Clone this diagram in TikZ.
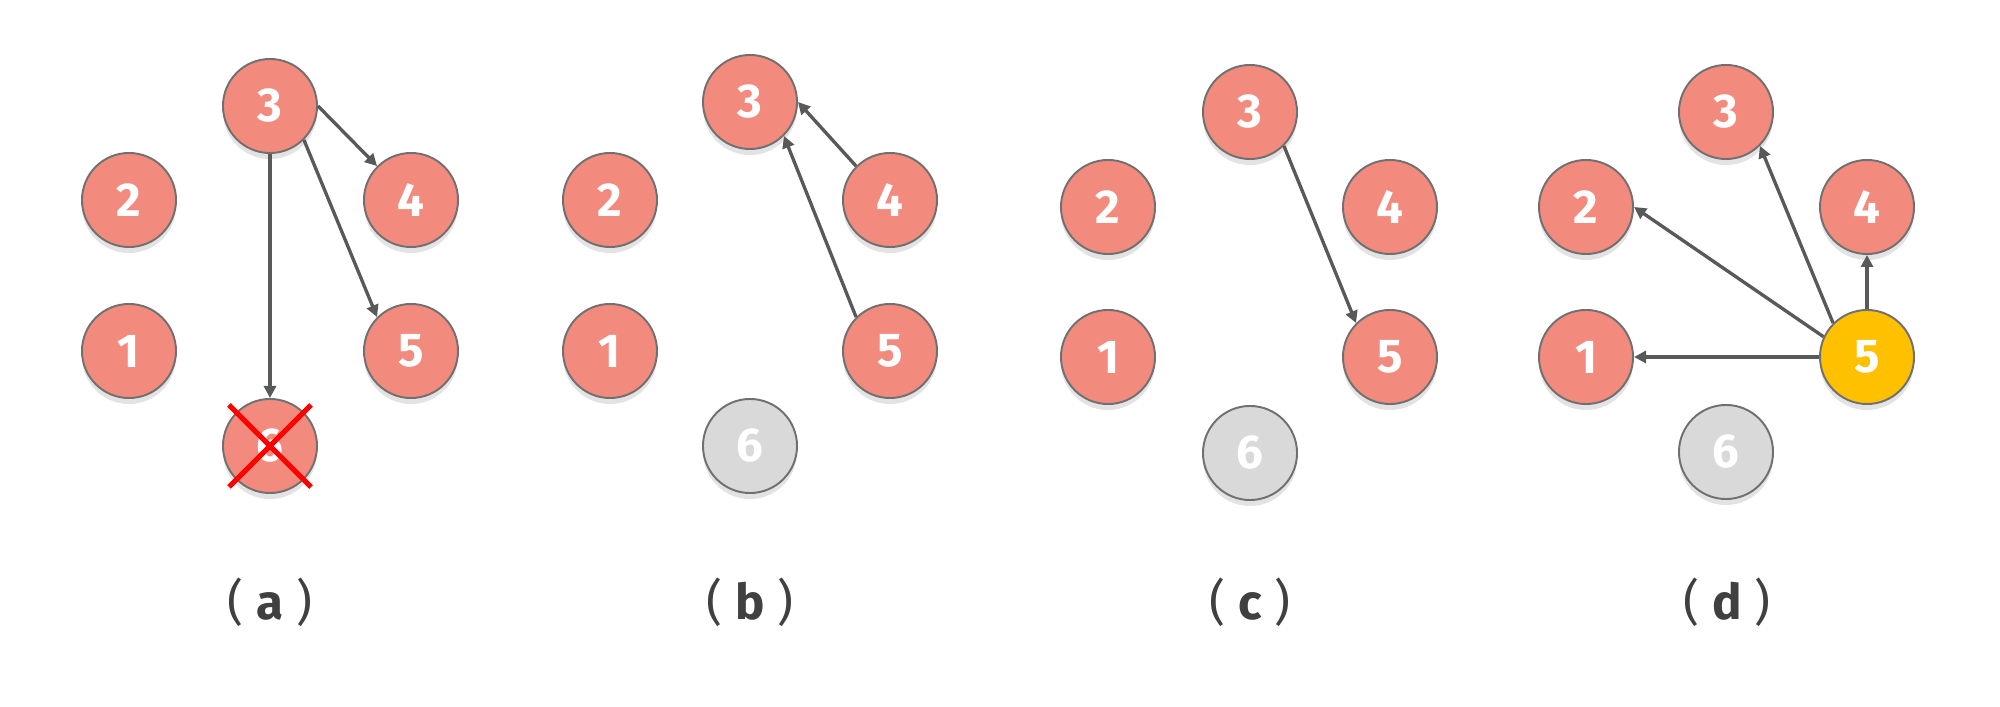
\documentclass[tikz,border=0pt]{standalone}
\usepackage{fontspec}
\setmainfont{Fira Sans}
\usepackage{xcolor}
\usetikzlibrary{arrows.meta,shadows,calc}
\definecolor{NodeRed}{HTML}{F28B7D}
\definecolor{NodeGray}{HTML}{D9D9D9}
\definecolor{NodeGold}{HTML}{FFC000}
\definecolor{EdgeGray}{HTML}{707070}
\definecolor{ArrowGray}{HTML}{595959}
\definecolor{LabelGray}{HTML}{404040}
\definecolor{CrossRed}{HTML}{FF0000}

\begin{document}
\begin{tikzpicture}[
  x=0.01cm,y=0.01cm,
  vert/.style={circle,draw=EdgeGray,line width=0.55pt,fill=NodeRed,minimum size=0.94cm,inner sep=0pt,
    text=white,font=\fontsize{13.5}{16}\selectfont\bfseries,
    drop shadow={shadow xshift=0pt,shadow yshift=-0.6mm,opacity=0.22}},
  idle/.style={vert,fill=NodeGray},
  pick/.style={vert,fill=NodeGold},
  arrow/.style={-{Triangle[length=1.2mm,width=1.2mm]},line width=0.95pt,ArrowGray},
  caption/.style={text=LabelGray,font=\fontsize{14}{17}\selectfont}
]
\useasboundingbox (0,0) rectangle (2000,706);
% (a)
\node[vert] (a3) at (270,600) {3};
\node[vert] (a2) at (129,506) {2};
\node[vert] (a4) at (411,506) {4};
\node[vert] (a1) at (129,355) {1};
\node[vert] (a5) at (411,355) {5};
\node[vert] (a6) at (270,260) {6};
\draw[arrow] (a3.east) -- (a4.north west);
\draw[arrow] (a3.south east) -- (a5.north west);
\draw[arrow] (a3.south) -- (a6.north);
\draw[CrossRed,line width=1.5pt] ($(a6)+(-41,41)$) -- ($(a6)+(41,-41)$);
\draw[CrossRed,line width=1.5pt] ($(a6)+(41,41)$) -- ($(a6)+(-41,-41)$);
\node[caption] (capa) at (270,104) {( \textbf{a} )};
% (b)
\node[vert] (b3) at (750,604) {3};
\node[vert] (b2) at (610,506) {2};
\node[vert] (b4) at (890,506) {4};
\node[vert] (b1) at (610,355) {1};
\node[vert] (b5) at (890,355) {5};
\node[idle] (b6) at (750,260) {6};
\draw[arrow] (b4.north west) -- (b3.east);
\draw[arrow] (b5.north west) -- (b3.south east);
\node[caption] (capb) at (750,104) {( \textbf{b} )};
% (c)
\node[vert] (c3) at (1250,594) {3};
\node[vert] (c2) at (1108,499) {2};
\node[vert] (c4) at (1390,499) {4};
\node[vert] (c1) at (1108,349) {1};
\node[vert] (c5) at (1390,349) {5};
\node[idle] (c6) at (1250,253) {6};
\draw[arrow] (c3.south east) -- (c5.north west);
\node[caption] (capc) at (1250,104) {( \textbf{c} )};
% (d)
\node[vert] (d3) at (1726,594) {3};
\node[vert] (d2) at (1586,499) {2};
\node[vert] (d4) at (1867,499) {4};
\node[vert] (d1) at (1586,349) {1};
\node[pick] (d5) at (1867,349) {5};
\node[idle] (d6) at (1726,254) {6};
\draw[arrow] (d5.west) -- (d1.east);
\draw[arrow] (d5.155) -- (d2.east);
\draw[arrow] (d5.north west) -- (d3.south east);
\draw[arrow] (d5.north) -- (d4.south);
\node[caption] (capd) at (1727,104) {( \textbf{d} )};
\end{tikzpicture}
\end{document}
